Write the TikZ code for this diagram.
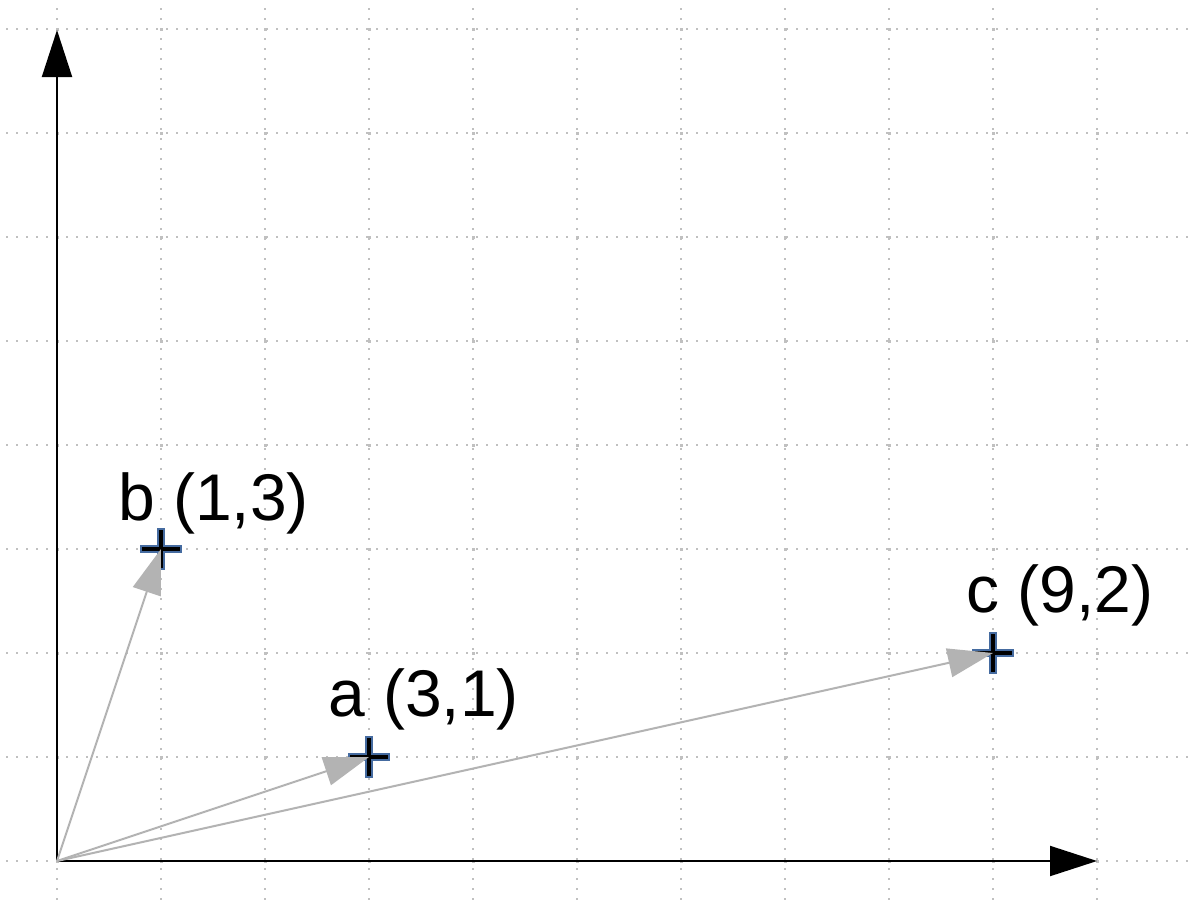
\documentclass[tikz,border=0pt]{standalone}
\usepackage{fontspec}
\setmainfont{Liberation Sans}
\usetikzlibrary{arrows.meta}
\definecolor{gridc}{RGB}{192,192,192}
\definecolor{vecc}{RGB}{179,179,179}
\definecolor{mkblue}{RGB}{69,107,160}
\begin{document}
\begin{tikzpicture}[x=1pt,y=-1pt,
 gridline/.style={gridc, line width=2pt, dash pattern=on 2pt off 8pt},
 axisline/.style={black, line width=2pt, -{Triangle[length=47pt,width=30pt]}},
 vecline/.style={vecc, line width=2pt, -{Triangle[length=45pt,width=29pt]}},
 lbl/.style={anchor=base west, inner sep=0pt, font=\fontsize{66}{79}\selectfont},
 plusmark/.pic={
   \draw[mkblue, line width=8pt] (-21,0) -- (21,0) (0,-21) -- (0,21);
   \draw[black, line width=4pt] (-19,0) -- (19,0) (0,-19) -- (0,19);
 }
]
\useasboundingbox (0,0) rectangle (1192,908);
\fill[white] (0,0) rectangle (1192,908);
% grid
\foreach \k in {0,...,8} \draw[gridline] (6,29+104*\k) -- (1192,29+104*\k);
\foreach \k in {0,...,10} \draw[gridline] (57+104*\k,8) -- (57+104*\k,908);
\foreach \i in {0,...,10} \foreach \j in {0,...,8}
  \fill[gridc] (55.5+104*\i,27.5+104*\j) rectangle +(3,3);
% points
\coordinate (O) at (57,861);
\coordinate (ytip) at (57,30);
\coordinate (xtip) at (1097,861);
\coordinate (a) at (369,757);
\coordinate (b) at (161,549);
\coordinate (c) at (993,653);
% axes
\draw[axisline] (O) -- (ytip);
\draw[axisline] (O) -- (xtip);
% markers
\pic at (a) {plusmark};
\pic at (b) {plusmark};
\pic at (c) {plusmark};
% vectors
\draw[vecline] (O) -- (a);
\draw[vecline] (O) -- (b);
\draw[vecline] (O) -- (c);
% labels
\node[lbl] (la) at (328,716) {a (3,1)};
\node[lbl] (lb) at (118,520) {b (1,3)};
\node[lbl] (lc) at (966,612) {c (9,2)};
\end{tikzpicture}
\end{document}
